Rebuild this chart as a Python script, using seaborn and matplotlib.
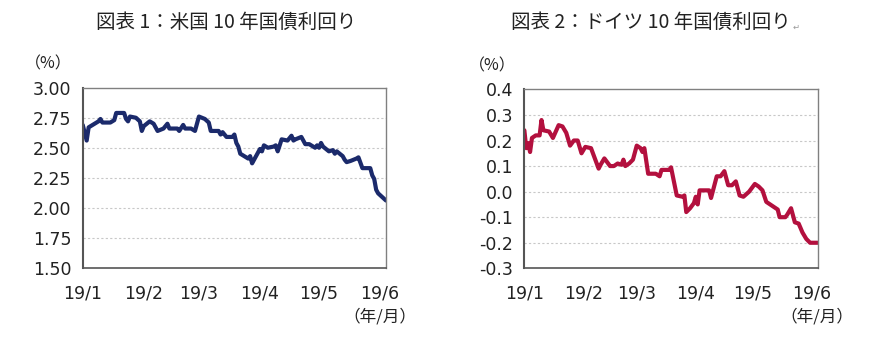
import matplotlib
matplotlib.use("Agg")
import matplotlib.pyplot as plt
import pandas as pd
import seaborn as sns

# US 10-year Treasury yield (%)
us_dates = [
    "2019-01-01", "2019-01-03", "2019-01-04", "2019-01-07", "2019-01-09", "2019-01-10",
    "2019-01-11", "2019-01-15", "2019-01-17", "2019-01-18", "2019-01-22", "2019-01-23",
    "2019-01-24", "2019-01-25", "2019-01-28", "2019-01-30", "2019-01-31",
    "2019-02-01", "2019-02-04", "2019-02-06", "2019-02-08", "2019-02-11", "2019-02-13",
    "2019-02-14", "2019-02-18", "2019-02-19", "2019-02-21", "2019-02-22", "2019-02-25",
    "2019-02-27",
    "2019-03-01", "2019-03-04", "2019-03-06", "2019-03-07", "2019-03-11", "2019-03-12",
    "2019-03-13", "2019-03-15", "2019-03-18", "2019-03-19", "2019-03-20", "2019-03-21",
    "2019-03-22", "2019-03-25", "2019-03-26", "2019-03-27", "2019-03-28", "2019-03-29",
    "2019-04-01", "2019-04-02", "2019-04-03", "2019-04-05", "2019-04-08", "2019-04-09",
    "2019-04-10", "2019-04-12", "2019-04-15", "2019-04-17", "2019-04-18", "2019-04-19",
    "2019-04-22", "2019-04-24", "2019-04-26", "2019-04-29", "2019-04-30",
    "2019-05-01", "2019-05-02", "2019-05-03", "2019-05-06", "2019-05-08", "2019-05-09",
    "2019-05-10", "2019-05-13", "2019-05-14", "2019-05-15", "2019-05-17", "2019-05-20",
    "2019-05-21", "2019-05-23", "2019-05-27", "2019-05-28", "2019-05-29", "2019-05-30",
    "2019-05-31", "2019-06-02", "2019-06-04",
]
us_yield = [
    2.69, 2.56, 2.67, 2.70, 2.72, 2.74,
    2.71, 2.71, 2.73, 2.79, 2.79, 2.74,
    2.72, 2.76, 2.75, 2.72, 2.64,
    2.68, 2.72, 2.70, 2.64, 2.66, 2.70,
    2.66, 2.66, 2.64, 2.69, 2.66, 2.66,
    2.64,
    2.76, 2.74, 2.71, 2.64, 2.64, 2.61,
    2.63, 2.59, 2.59, 2.61, 2.54, 2.51,
    2.45, 2.42, 2.41, 2.43, 2.37, 2.40,
    2.49, 2.47, 2.52, 2.50, 2.51, 2.52,
    2.47, 2.57, 2.56, 2.60, 2.56, 2.57,
    2.59, 2.53, 2.53, 2.50, 2.52,
    2.50, 2.54, 2.51, 2.47, 2.48, 2.45,
    2.47, 2.43, 2.40, 2.38, 2.39, 2.41,
    2.42, 2.33, 2.33, 2.27, 2.24, 2.15,
    2.12, 2.09, 2.06,
]

# German 10-year Bund yield (%)
de_dates = [
    "2019-01-01", "2019-01-02", "2019-01-03", "2019-01-04", "2019-01-05", "2019-01-07",
    "2019-01-09", "2019-01-10", "2019-01-11", "2019-01-14", "2019-01-16", "2019-01-19",
    "2019-01-21", "2019-01-23", "2019-01-25", "2019-01-27", "2019-01-29", "2019-01-31",
    "2019-02-02", "2019-02-05", "2019-02-09", "2019-02-10", "2019-02-12", "2019-02-15",
    "2019-02-17", "2019-02-19", "2019-02-21", "2019-02-22", "2019-02-23", "2019-02-25",
    "2019-02-27",
    "2019-03-01", "2019-03-03", "2019-03-04", "2019-03-05", "2019-03-07", "2019-03-11",
    "2019-03-13", "2019-03-14", "2019-03-18", "2019-03-19", "2019-03-22", "2019-03-25",
    "2019-03-26", "2019-03-27", "2019-03-29", "2019-03-31",
    "2019-04-01", "2019-04-02", "2019-04-03", "2019-04-05", "2019-04-08", "2019-04-09",
    "2019-04-12", "2019-04-14", "2019-04-16", "2019-04-18", "2019-04-20", "2019-04-22",
    "2019-04-24", "2019-04-26", "2019-04-29",
    "2019-05-02", "2019-05-04", "2019-05-06", "2019-05-08", "2019-05-09", "2019-05-12",
    "2019-05-14", "2019-05-15", "2019-05-18", "2019-05-19", "2019-05-21", "2019-05-23",
    "2019-05-25", "2019-05-27", "2019-05-29", "2019-05-31", "2019-06-04",
]
de_yield = [
    0.24, 0.17, 0.19, 0.155, 0.21, 0.22,
    0.22, 0.28, 0.24, 0.235, 0.21, 0.26,
    0.255, 0.23, 0.18, 0.20, 0.20, 0.15,
    0.175, 0.17, 0.09, 0.105, 0.13, 0.10,
    0.10, 0.11, 0.105, 0.125, 0.10, 0.11,
    0.125,
    0.18, 0.17, 0.155, 0.17, 0.07, 0.07,
    0.06, 0.085, 0.085, 0.095, -0.015, -0.02,
    -0.015, -0.08, -0.065, -0.045,
    -0.02, -0.05, 0.005, 0.005, 0.005, -0.025,
    0.06, 0.06, 0.08, 0.025, 0.025, 0.04,
    -0.015, -0.02, 0.0,
    0.03, 0.02, 0.005, -0.04, -0.045, -0.06,
    -0.07, -0.10, -0.10, -0.09, -0.065, -0.12,
    -0.125, -0.16, -0.185, -0.20, -0.20,
]

us_ticks = [1.50, 1.75, 2.00, 2.25, 2.50, 2.75, 3.00]
de_ticks = [-0.3, -0.2, -0.1, 0.0, 0.1, 0.2, 0.3, 0.4]
month_ticks = ["2019-01-01", "2019-02-01", "2019-03-01", "2019-04-01", "2019-05-01", "2019-06-01"]
month_labels = ["19/1", "19/2", "19/3", "19/4", "19/5", "19/6"]

sns.set_theme(style="white")
plt.rcParams["font.family"] = ["DejaVu Sans", "Noto Sans CJK JP"]
JP = ["Noto Sans CJK JP", "DejaVu Sans"]

us_df = pd.DataFrame({"date": pd.to_datetime(us_dates), "yield": us_yield})
de_df = pd.DataFrame({"date": pd.to_datetime(de_dates), "yield": de_yield})

fig = plt.figure(figsize=(8.7, 3.37), dpi=100)
ax1 = fig.add_axes([0.0951, 0.2056, 0.3486, 0.534])
ax2 = fig.add_axes([0.6027, 0.2038, 0.3372, 0.531])


def style(ax, df, color, ticks, fmt):
    sns.lineplot(data=df, x="date", y="yield", ax=ax, color=color, linewidth=3.0,
                 solid_joinstyle="round", solid_capstyle="round")
    ax.set_xlim(pd.Timestamp("2019-01-01"), pd.Timestamp("2019-06-04"))
    ax.set_ylim(ticks[0], ticks[-1])
    ax.set_yticks(ticks)
    ax.set_yticklabels([fmt.format(t) for t in ticks], fontsize=12.5, color="#222222")
    ax.set_xticks(pd.to_datetime(month_ticks))
    ax.set_xticklabels(month_labels, fontsize=12.5, color="#222222")
    ax.tick_params(axis="x", direction="in", length=5, width=1, color="#808080", pad=12)
    ax.tick_params(axis="y", length=0, pad=8)
    ax.set_xlabel("")
    ax.set_ylabel("")
    for t in ticks[1:-1]:
        ax.axhline(t, color="#c8c8c8", linewidth=0.8, linestyle=(0, (2, 2)), zorder=0)
    for s in ax.spines.values():
        s.set_color("#808080")
        s.set_linewidth(1.0)
    ax.spines["left"].set_color("#555555")
    ax.spines["left"].set_linewidth(1.5)
    ax.spines["bottom"].set_color("#555555")
    ax.spines["bottom"].set_linewidth(1.2)


style(ax1, us_df, "#1b2a6b", us_ticks, "{:.2f}")
style(ax2, de_df, "#b3103e", de_ticks, "{:.1f}")

fig.text(226 / 870, 1 - 22 / 337, "図表 1：米国 10 年国債利回り", family=JP,
         fontsize=14, ha="center", va="center", color="#222222")
fig.text(651 / 870, 1 - 22 / 337, "図表 2：ドイツ 10 年国債利回り", family=JP,
         fontsize=14, ha="center", va="center", color="#222222")
fig.text(793 / 870, 1 - 27 / 337, "↵", family=["DejaVu Sans"], fontsize=6,
         ha="left", va="center", color="#999999")

fig.text(48 / 870, 1 - 64 / 337, "（%）", family=JP, fontsize=11.5,
         ha="center", va="center", color="#222222")
fig.text(492 / 870, 1 - 66 / 337, "（%）", family=JP, fontsize=11.5,
         ha="center", va="center", color="#222222")
fig.text(380 / 870, 1 - 317 / 337, "（年/月）", family=JP, fontsize=12,
         ha="center", va="center", color="#222222")
fig.text(817 / 870, 1 - 317 / 337, "（年/月）", family=JP, fontsize=12,
         ha="center", va="center", color="#222222")

fig.savefig("out.png", dpi=100, facecolor="white")
